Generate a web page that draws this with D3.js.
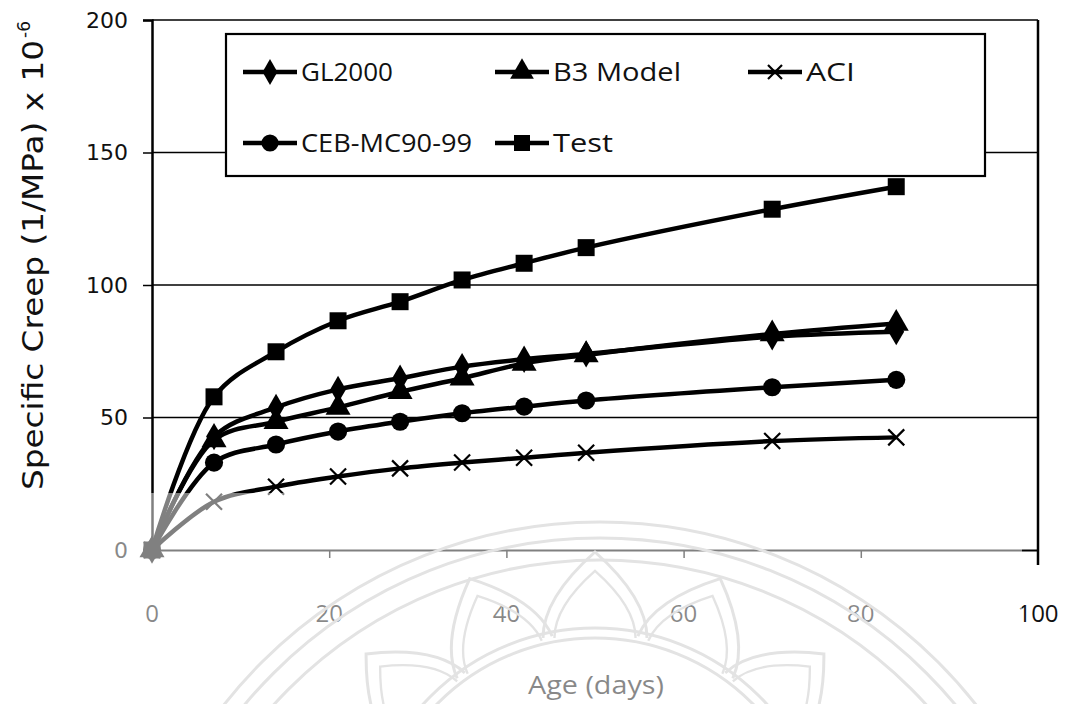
<!DOCTYPE html>
<html>
<head>
<meta charset="utf-8">
<script src="https://cdn.jsdelivr.net/npm/d3@7"></script>
<style>
  html, body { margin: 0; padding: 0; background: #fff; }
  svg { display: block; }
</style>
</head>
<body>
<svg id="chart" width="1074" height="704"></svg>
<script>
// Specific creep vs. age, measured and predicted by four models
const days = [0, 7, 14, 21, 28, 35, 42, 49, 70, 84];
const gl2000 = [0, 42.8, 53.8, 60.6, 64.8, 69.2, 72.0, 74.0, 80.5, 82.4];
const b3Model = [0, 41.5, 48.4, 53.8, 59.7, 64.8, 70.4, 73.6, 81.5, 85.5];
const aci = [0, 18.2, 23.9, 27.7, 30.8, 33.0, 34.8, 36.7, 41.1, 42.5];
const cebMc90 = [0, 33.0, 39.8, 44.7, 48.4, 51.6, 54.1, 56.4, 61.4, 64.2];
const testData = [0, 57.8, 74.8, 86.5, 93.7, 101.9, 108.2, 114.1, 128.6, 137.1];

const seriesNames = ["GL2000", "B3 Model", "ACI", "CEB-MC90-99", "Test"];
const seriesMarkers = ["diamond", "triangle", "x", "circle", "square"];
const xTicks = [0, 20, 40, 60, 80, 100];
const yTicks = [0, 50, 100, 150, 200];

const series = [
  { name: seriesNames[0], marker: seriesMarkers[0], values: gl2000 },
  { name: seriesNames[1], marker: seriesMarkers[1], values: b3Model },
  { name: seriesNames[2], marker: seriesMarkers[2], values: aci },
  { name: seriesNames[3], marker: seriesMarkers[3], values: cebMc90 },
  { name: seriesNames[4], marker: seriesMarkers[4], values: testData }
];

const svg = d3.select("#chart");
const plotLeft = 152, plotRight = 1038, plotTop = 20, plotBottom = 550;

const x = d3.scaleLinear().domain([0, 100]).range([plotLeft, plotRight]);
const y = d3.scaleLinear().domain([0, 200]).range([plotBottom, plotTop]);

const tickFont = "'DejaVu Sans', Verdana, sans-serif";
const narrowFont = "'Liberation Sans Narrow', 'Open Sans', sans-serif";

// Horizontal gridlines and frame
svg.append("g")
  .selectAll("line")
  .data(yTicks.filter(v => v > 0))
  .join("line")
  .attr("x1", plotLeft).attr("x2", plotRight)
  .attr("y1", d => y(d)).attr("y2", d => y(d))
  .attr("stroke", "#000").attr("stroke-width", 1.6);

svg.append("line")
  .attr("x1", plotRight).attr("x2", plotRight)
  .attr("y1", plotTop).attr("y2", plotBottom + 15)
  .attr("stroke", "#000").attr("stroke-width", 2.5);

// Axes
const yAxis = d3.axisLeft(y).tickValues(yTicks).tickSize(9).tickFormat("");
svg.append("g").attr("transform", `translate(${plotLeft},0)`).call(yAxis)
  .call(g => g.select(".domain").attr("stroke-width", 2.5))
  .call(g => g.selectAll(".tick line").attr("stroke-width", 1.5));

const xAxis = d3.axisBottom(x).tickValues(xTicks.slice(1, 5)).tickSize(8).tickSizeOuter(0).tickFormat("");
svg.append("g").attr("transform", `translate(0,${plotBottom})`).call(xAxis)
  .call(g => g.select(".domain").attr("stroke-width", 1.8))
  .call(g => g.selectAll(".tick line").attr("stroke-width", 1.5));

// Tick labels
svg.append("g")
  .selectAll("text")
  .data(yTicks)
  .join("text")
  .attr("x", 128).attr("y", d => y(d))
  .attr("dy", "0.36em")
  .attr("text-anchor", "end")
  .attr("font-family", tickFont).attr("font-size", 22)
  .attr("fill", "#111")
  .text(d => d);

svg.append("g")
  .selectAll("text")
  .data(xTicks)
  .join("text")
  .attr("x", d => x(d)).attr("y", 613)
  .attr("dy", "0.36em")
  .attr("text-anchor", "middle")
  .attr("font-family", narrowFont).attr("font-size", 24)
  .attr("fill", "#111")
  .text(d => d);

// Axis titles
svg.append("text")
  .attr("x", 596).attr("y", 694)
  .attr("text-anchor", "middle")
  .attr("font-family", narrowFont).attr("font-size", 26)
  .attr("textLength", 136).attr("lengthAdjust", "spacingAndGlyphs")
  .attr("fill", "#111")
  .text("Age (days)");

const yTitle = svg.append("g").attr("transform", "translate(43,0) rotate(-90)");
yTitle.append("text")
  .attr("x", -490).attr("y", 0)
  .attr("font-family", tickFont).attr("font-size", 28)
  .attr("textLength", 450).attr("lengthAdjust", "spacingAndGlyphs")
  .attr("fill", "#111")
  .text("Specific Creep (1/MPa) x 10");
yTitle.append("text")
  .attr("x", -38).attr("y", -13)
  .attr("font-family", tickFont).attr("font-size", 17)
  .attr("fill", "#111")
  .text("-6");

// Marker drawing
function drawMarker(sel, type, s) {
  if (type === "x") {
    const h = s / 2;
    sel.append("path")
      .attr("d", `M${-h},${-h}L${h},${h}M${-h},${h}L${h},${-h}`)
      .attr("stroke", "#000").attr("stroke-width", 2.2).attr("fill", "none");
    return;
  }
  const sym = {
    diamond: d3.symbolDiamond,
    triangle: d3.symbolTriangle,
    circle: d3.symbolCircle,
    square: d3.symbolSquare
  }[type];
  const area = {
    diamond: s * s * 0.75,
    triangle: s * s * 0.75,
    circle: s * s * 0.8,
    square: s * s
  }[type];
  sel.append("path").attr("d", d3.symbol(sym, area)()).attr("fill", "#000");
}

const markerSize = { diamond: 17, triangle: 19, x: 16, circle: 18, square: 17 };

const line = d3.line()
  .x((d, i) => x(days[i]))
  .y(d => y(d))
  .curve(d3.curveCatmullRom.alpha(0.5));

const plot = svg.append("g");
series.forEach(s => {
  plot.append("path")
    .datum(s.values)
    .attr("d", line)
    .attr("fill", "none")
    .attr("stroke", "#000")
    .attr("stroke-width", 4.5)
    .attr("stroke-linejoin", "round");
});
series.forEach(s => {
  s.values.forEach((v, i) => {
    const g = plot.append("g").attr("transform", `translate(${x(days[i])},${y(v)})`);
    drawMarker(g, s.marker, markerSize[s.marker]);
  });
});

// Legend
const legend = svg.append("g");
legend.append("rect")
  .attr("x", 226).attr("y", 34).attr("width", 759).attr("height", 142)
  .attr("fill", "#fff").attr("stroke", "#000").attr("stroke-width", 2.2);

const legendPos = [
  { x: 243, y: 72, w: 92 },
  { x: 495, y: 72, w: 128 },
  { x: 748, y: 72, w: 49 },
  { x: 243, y: 143, w: 171 },
  { x: 495, y: 143, w: 60 }
];
series.forEach((s, i) => {
  const p = legendPos[i];
  const g = legend.append("g").attr("transform", `translate(${p.x},${p.y})`);
  g.append("line").attr("x1", 0).attr("x2", 54).attr("y1", 0).attr("y2", 0)
    .attr("stroke", "#000").attr("stroke-width", 4.5);
  const m = g.append("g").attr("transform", "translate(27,0)");
  drawMarker(m, s.marker, s.marker === "x" ? 14 : markerSize[s.marker] - 1);
  g.append("text")
    .attr("x", 58).attr("y", 0).attr("dy", "0.36em")
    .attr("font-family", narrowFont).attr("font-size", 26)
    .attr("textLength", p.w).attr("lengthAdjust", "spacingAndGlyphs")
    .attr("fill", "#111")
    .text(s.name);
});

// Faint seal printed over the lower part of the page
const seal = svg.append("g");
seal.append("rect")
  .attr("x", 0).attr("y", 493).attr("width", 1022).attr("height", 211)
  .attr("fill", "#fff").attr("opacity", 0.5);
const sealClip = svg.append("defs").append("clipPath").attr("id", "sealclip");
sealClip.append("rect").attr("x", 0).attr("y", 493).attr("width", 1022).attr("height", 211);
const ring = seal.append("g").attr("clip-path", "url(#sealclip)")
  .attr("fill", "none").attr("stroke", "#e3e3e3").attr("stroke-width", 3);
[478, 462, 440].forEach(r => {
  ring.append("circle").attr("cx", 600).attr("cy", 1000).attr("r", r);
});
[232, 222].forEach(r => {
  ring.append("circle").attr("cx", 595).attr("cy", 860).attr("r", r);
});
const petal = "M-52,0Q-52,-40 0,-86Q52,-40 52,0";
[-48, -24, 0, 24, 48].forEach(a => {
  ring.append("path")
    .attr("d", petal)
    .attr("transform", `translate(595,860) rotate(${a}) translate(0,-222)`);
  ring.append("path")
    .attr("d", petal)
    .attr("transform", `translate(595,860) rotate(${a}) translate(0,-222) scale(0.78)`);
});
</script>
</body>
</html>
